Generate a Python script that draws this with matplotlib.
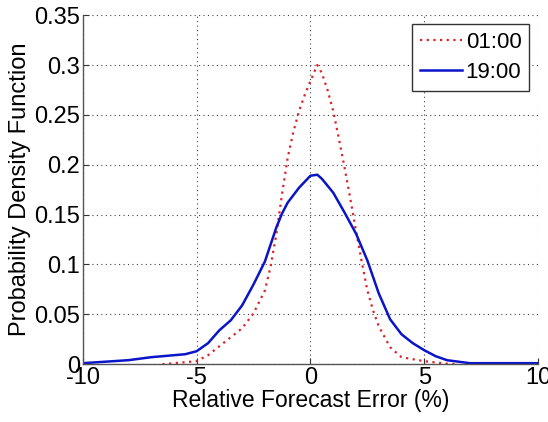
import matplotlib.pyplot as plt

x_0100 = [-6.5, -5, -4.5, -4, -3.5, -3, -2.5, -2, -1.75, -1.5, -1.25, -1, -0.75, -0.5, -0.25, 0, 0.3,
          0.5, 0.75, 1, 1.25, 1.5, 1.75, 2, 2.25, 2.5, 2.75, 3, 3.5, 4, 5, 6, 6.5]
pdf_0100 = [0.0, 0.003, 0.009, 0.018, 0.027, 0.036, 0.051, 0.074, 0.098, 0.13, 0.17, 0.207, 0.233,
            0.254, 0.27, 0.284, 0.300, 0.292, 0.275, 0.254, 0.226, 0.197, 0.166, 0.134, 0.103,
            0.074, 0.054, 0.038, 0.017, 0.007, 0.003, 0.0005, 0.0]

x_1900 = [-10, -8, -7, -6, -5.5, -5, -4.5, -4, -3.5, -3, -2.5, -2, -1.75, -1.5, -1.25, -1, -0.5,
          0, 0.3, 0.5, 1, 1.5, 2, 2.5, 3, 3.5, 4, 4.5, 5, 5.5, 6, 7, 10]
pdf_1900 = [0.001, 0.004, 0.007, 0.009, 0.010, 0.013, 0.021, 0.034, 0.044, 0.059, 0.08, 0.103,
            0.12, 0.137, 0.151, 0.162, 0.177, 0.189, 0.19, 0.186, 0.172, 0.152, 0.131, 0.104,
            0.071, 0.045, 0.030, 0.021, 0.014, 0.008, 0.004, 0.001, 0.001]

xticks = [-10, -5, 0, 5, 10]
yticks = [0, 0.05, 0.1, 0.15, 0.2, 0.25, 0.3, 0.35]
ytick_labels = ["0", "0.05", "0.1", "0.15", "0.2", "0.25", "0.3", "0.35"]

plt.rcParams["font.family"] = ["Liberation Sans", "DejaVu Sans"]

fig = plt.figure(figsize=(5.48, 4.22), dpi=100)
ax = fig.add_axes([0.151, 0.137, 0.831, 0.827])

ax.plot(x_0100, pdf_0100, color="#e0202a", linestyle=(0, (1, 2)), linewidth=1.6, label="01:00")
ax.plot(x_1900, pdf_1900, color="#0a14c8", linestyle="-", linewidth=1.8, label="19:00")

ax.set_xlim(-10, 10)
ax.set_ylim(0, 0.35)
ax.set_xticks(xticks)
ax.set_xticklabels([str(t) for t in xticks])
ax.set_yticks(yticks)
ax.set_yticklabels(ytick_labels)
ax.tick_params(direction="in", labelsize=17, length=4, color="#333333", pad=2)
ax.grid(True, linestyle=(0, (1, 3)), color="#444444", linewidth=0.8)

for side in ["top", "right"]:
    ax.spines[side].set_visible(False)
for side in ["left", "bottom"]:
    ax.spines[side].set_color("#555555")
    ax.spines[side].set_linewidth(1.0)

ax.set_xlabel("Relative Forecast Error (%)", fontsize=16.5, labelpad=0)
ax.set_ylabel("Probability Density Function", fontsize=17, labelpad=2)

leg = ax.legend(loc="upper right", fontsize=16, fancybox=False, framealpha=1,
                edgecolor="#333333", handlelength=1.9, handletextpad=0.15,
                borderpad=0.35, labelspacing=0.4, borderaxespad=0.4)
leg.get_frame().set_linewidth(1.0)

fig.savefig("out.png", dpi=100)
